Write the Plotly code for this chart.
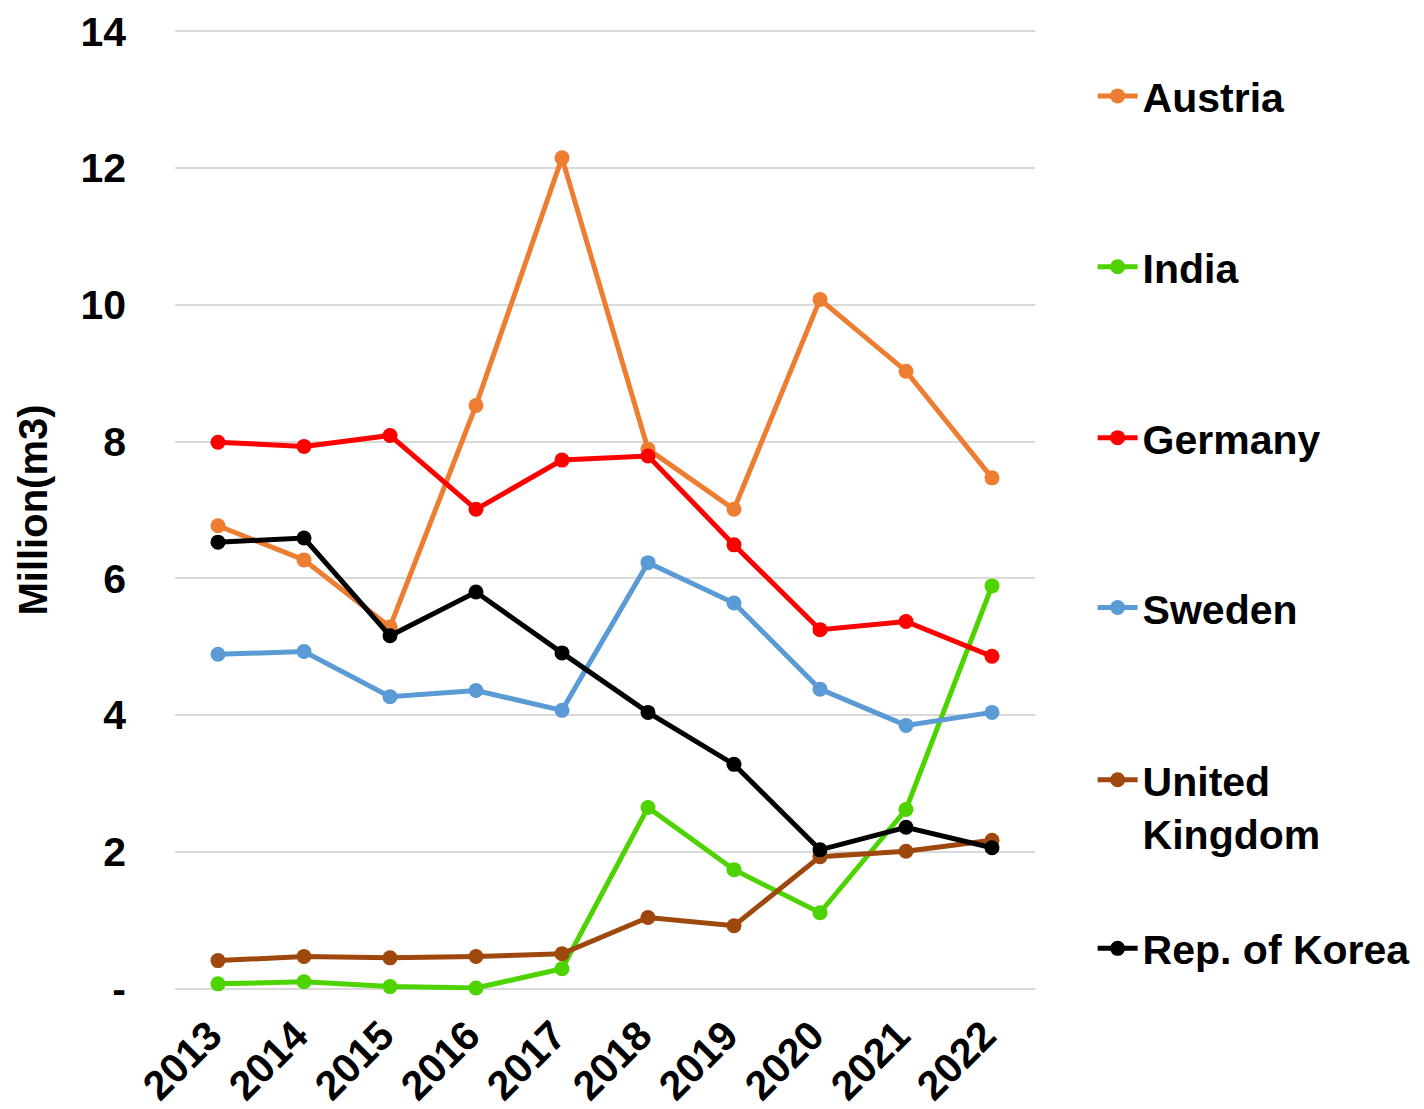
import plotly.graph_objects as go

years = ["2013", "2014", "2015", "2016", "2017", "2018", "2019", "2020", "2021", "2022"]
austria = [6.77, 6.27, 5.29, 8.53, 12.15, 7.89, 7.01, 10.08, 9.03, 7.47]
india = [0.07, 0.10, 0.03, 0.01, 0.29, 2.65, 1.74, 1.11, 2.62, 5.89]
germany = [7.99, 7.93, 8.09, 7.01, 7.73, 7.79, 6.49, 5.25, 5.37, 4.86]
sweden = [4.89, 4.93, 4.27, 4.36, 4.07, 6.23, 5.64, 4.38, 3.85, 4.04]
uk = [0.41, 0.47, 0.45, 0.47, 0.51, 1.04, 0.92, 1.93, 2.01, 2.17]
korea = [6.53, 6.59, 5.16, 5.80, 4.91, 4.04, 3.28, 2.03, 2.36, 2.06]

series = [
    ("Austria", austria, "#ED7D31", "legend"),
    ("India", india, "#4CD300", "legend2"),
    ("Germany", germany, "#FF0000", "legend3"),
    ("Sweden", sweden, "#5B9BD5", "legend4"),
    ("United<br>Kingdom", uk, "#9E480E", "legend5"),
    ("Rep. of Korea", korea, "#000000", "legend6"),
]

y_ticks = [0, 2, 4, 6, 8, 10, 12, 14]
y_ticktext = ["-", "2", "4", "6", "8", "10", "12", "14"]

fig = go.Figure()
for name, vals, color, lg in series:
    fig.add_trace(go.Scatter(
        x=years, y=vals, name=name, mode="lines+markers",
        line=dict(color=color, width=5),
        marker=dict(color=color, size=15),
        legend=lg, cliponaxis=False,
    ))

font_family = "Liberation Sans, Arial, sans-serif"
legend_font = dict(family=font_family, size=41, color="#000000", weight="bold")

def make_legend(y, yanchor="middle", valign="middle"):
    return dict(
        x=1.067, xanchor="left", y=y, yanchor=yanchor,
        font=legend_font, bgcolor="rgba(0,0,0,0)", borderwidth=0,
        valign=valign, itemwidth=40,
    )

fig.update_layout(
    width=1424, height=1109,
    margin=dict(l=167, r=397, t=22, b=127, autoexpand=False),
    paper_bgcolor="white", plot_bgcolor="white",
    font=dict(family=font_family, size=41, color="#000000"),
    showlegend=True,
    legend=make_legend(0.931),
    legend2=make_legend(0.753),
    legend3=make_legend(0.575),
    legend4=make_legend(0.398),
    legend5=make_legend(0.191, valign="top"),
    legend6=make_legend(0.043),
    xaxis=dict(
        type="category", tickangle=-45, automargin=False,
        range=[-0.5, 9.5],
        tickfont=dict(family=font_family, size=41, weight="bold"),
        showgrid=False, showline=False, ticks="",
        ticklabelstandoff=12, ticklabelshift=-8,
    ),
    yaxis=dict(
        range=[-0.02, 14.02], tickvals=y_ticks, ticktext=y_ticktext, automargin=False,
        tickfont=dict(family=font_family, size=41, weight="bold"),
        showgrid=True, gridcolor="#D9D9D9", gridwidth=2,
        zeroline=False, showline=False, ticks="",
        ticklabelstandoff=48,
        title=dict(text="Million(m3)", font=dict(family=font_family, size=40, weight="bold"), standoff=20),
    ),
)

fig.write_html("out.html")
